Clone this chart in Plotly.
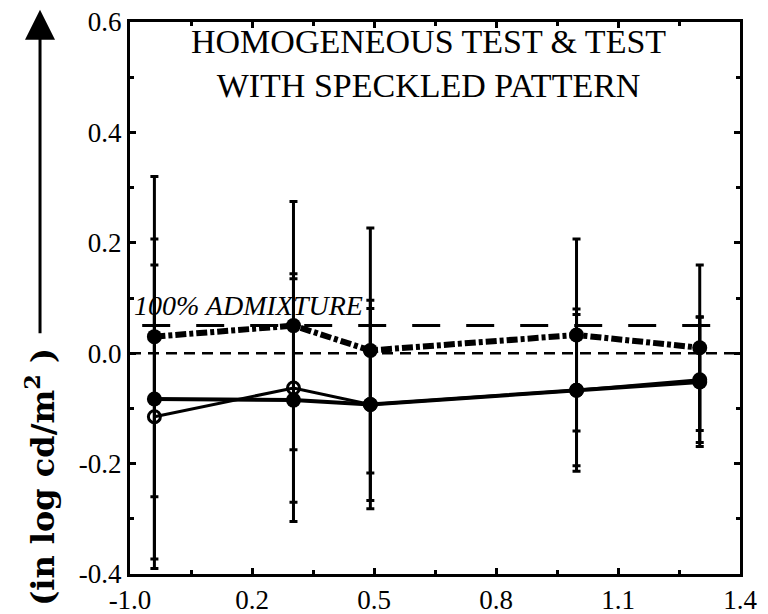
import plotly.graph_objects as go

# x axis: evenly spaced tick positions with (uneven) printed labels
tick_pos = [0, 1, 2, 3, 4, 5]
tick_labels = ["-1.0", "0.2", "0.5", "0.8", "1.1", "1.4"]

# measurement positions (in axis tick units)
x_pos = [0.2, 1.34, 1.97, 3.66, 4.67]

# series values (log cd/m^2)
speckled_100 = [0.03, 0.05, 0.005, 0.033, 0.01]
speckled_100_err = [0.29, 0.225, 0.222, 0.174, 0.15]

homog_filled = [-0.083, -0.085, -0.093, -0.067, -0.052]
homog_filled_err = [0.29, 0.22, 0.174, 0.147, 0.117]

homog_open = [-0.115, -0.063, -0.093, -0.067, -0.048]
homog_open_err = [0.275, 0.207, 0.189, 0.137, 0.114]

ref_zero = 0.0
ref_admixture = 0.05

FONT = "Liberation Serif"

fig = go.Figure()

err_style = dict(type="data", visible=True, color="black", thickness=3, width=4)

fig.add_trace(go.Scatter(
    x=x_pos, y=homog_filled, mode="lines+markers",
    line=dict(color="black", width=4),
    marker=dict(symbol="circle", size=15, color="black"),
    error_y=dict(array=homog_filled_err, **err_style),
    showlegend=False))

fig.add_trace(go.Scatter(
    x=x_pos, y=homog_open, mode="lines+markers",
    line=dict(color="black", width=3),
    marker=dict(symbol="circle-open", size=12, color="black", line=dict(width=3)),
    error_y=dict(array=homog_open_err, **err_style),
    showlegend=False))

fig.add_trace(go.Scatter(
    x=x_pos, y=speckled_100, mode="lines+markers",
    line=dict(color="black", width=6, dash="11px,3px,4px,3px"),
    marker=dict(symbol="circle", size=15, color="black"),
    error_y=dict(array=speckled_100_err, **err_style),
    showlegend=False))

# reference lines
fig.add_shape(type="line", xref="x", yref="y", x0=0, x1=5, y0=ref_zero, y1=ref_zero,
              line=dict(color="black", width=2.5, dash="11px,7px"), layer="below")
fig.add_shape(type="line", xref="x", yref="y", x0=0.1, x1=4.95, y0=ref_admixture, y1=ref_admixture,
              line=dict(color="black", width=3, dash="28px,26px"), layer="below")

fig.add_annotation(text="<i>100% ADMIXTURE</i>", x=0.02, y=0.087, xref="x", yref="y",
                   xanchor="left", yanchor="middle", showarrow=False,
                   font=dict(family=FONT, size=28, color="black"))

fig.add_annotation(text="HOMOGENEOUS TEST &amp; TEST<br>WITH SPECKLED PATTERN",
                   x=0.49, y=0.924, xref="paper", yref="paper",
                   xanchor="center", yanchor="middle", showarrow=False,
                   font=dict(family=FONT, size=34, color="black"))

# y-axis label with arrow
fig.add_annotation(text="<b>(in log cd/m<sup>2</sup> )</b>", x=-0.1475, y=0.176,
                   xref="paper", yref="paper", textangle=-90,
                   xanchor="center", yanchor="middle", showarrow=False,
                   font=dict(family="DejaVu Serif", size=32, color="black"))
fig.add_annotation(text="", x=-0.1475, y=1.022, xref="paper", yref="paper",
                   ax=0, ay=325, axref="pixel", ayref="pixel",
                   showarrow=True, arrowhead=2, arrowsize=2, arrowwidth=3,
                   arrowcolor="black")

fig.update_xaxes(range=[0, 5], tickvals=tick_pos, ticktext=tick_labels,
                 automargin=False,
                 showgrid=False, zeroline=False, showline=True, linecolor="black",
                 linewidth=3, mirror="ticks", ticks="inside", ticklen=6, tickwidth=3,
                 tickcolor="black",
                 minor=dict(tickvals=[0.5, 1.5, 2.5, 3.5, 4.5], ticks="inside",
                            ticklen=4, tickwidth=3, tickcolor="black"),
                 tickfont=dict(family=FONT, size=27, color="black"))
fig.update_yaxes(range=[-0.4, 0.6], tickvals=[-0.4, -0.2, 0.0, 0.2, 0.4, 0.6],
                 ticktext=["-0.4", "-0.2", "0.0", "0.2", "0.4", "0.6"],
                 automargin=False,
                 showgrid=False, zeroline=False, showline=True, linecolor="black",
                 linewidth=3, mirror="ticks", ticks="inside", ticklen=6, tickwidth=3,
                 tickcolor="black",
                 minor=dict(tickvals=[-0.3, -0.1, 0.1, 0.3, 0.5], ticks="inside",
                            ticklen=4, tickwidth=3, tickcolor="black"),
                 tickfont=dict(family=FONT, size=27, color="black"))

fig.update_layout(width=768, height=614,
                  margin=dict(l=130, r=28, t=22, b=40),
                  paper_bgcolor="white", plot_bgcolor="white")

fig.write_html("out.html")
